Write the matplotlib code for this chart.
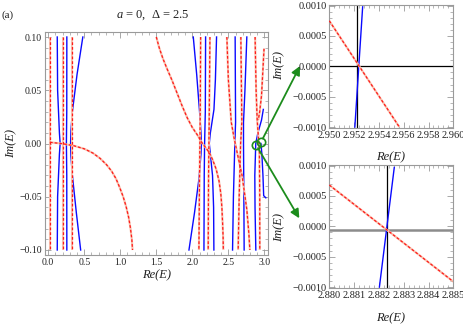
import matplotlib
matplotlib.use("Agg")
import matplotlib.pyplot as plt
from matplotlib.ticker import MultipleLocator, FuncFormatter

plt.rcParams["font.family"] = ["Liberation Serif", "DejaVu Serif"]
plt.rcParams["mathtext.fontset"] = "custom"
plt.rcParams["mathtext.rm"] = "Liberation Serif"
plt.rcParams["mathtext.it"] = "Liberation Serif:italic"

# ---- main panel: zero contours, blue = solid, red = dashed ----
blue_1 = ([0.125, 0.13, 0.155, 0.165, 0.155, 0.13, 0.125], [0.10, 0.05, 0.01, 0.0, -0.01, -0.05, -0.10])
blue_2 = ([0.258, 0.257, 0.252, 0.257, 0.258], [0.10, 0.03, 0.0, -0.03, -0.10])
blue_3 = ([0.48, 0.40, 0.335, 0.315, 0.31, 0.315, 0.335, 0.39, 0.45],
          [0.10, 0.065, 0.03, 0.012, 0.0, -0.012, -0.03, -0.065, -0.10])
blue_4 = ([2.013, 2.06, 2.10, 2.12, 2.125, 2.12, 2.09, 2.03, 1.953],
          [0.10, 0.065, 0.03, 0.01, 0.0, -0.01, -0.034, -0.065, -0.10])
blue_5 = ([2.184, 2.18, 2.17, 2.165, 2.161], [0.10, 0.03, 0.0, -0.03, -0.10])
blue_6 = ([2.336, 2.32, 2.30, 2.25, 2.235, 2.25, 2.28, 2.295, 2.299],
          [0.10, 0.06, 0.032, 0.01, 0.0, -0.01, -0.03, -0.06, -0.10])
blue_7 = ([2.594, 2.60, 2.59, 2.57, 2.558], [0.10, 0.02, 0.0, -0.05, -0.10])
blue_8 = ([2.756, 2.73, 2.71, 2.71, 2.715, 2.719], [0.10, 0.05, 0.02, 0.0, -0.05, -0.10])
blue_9 = ([2.985, 2.96, 2.91, 2.88, 2.867, 2.87, 2.881], [0.032, 0.022, 0.01, 0.0, -0.03, -0.06, -0.10])
blue_10 = ([2.952, 2.964, 2.98, 2.99, 3.02], [0.0, -0.009, -0.03, -0.049, -0.051])

red_1 = ([0.025, 0.025], [0.10, -0.10])
red_2 = ([0.198, 0.198], [0.10, -0.10])
red_3 = ([0.328, 0.328], [0.10, -0.10])
red_arc = ([0.025, 0.04, 0.2, 0.35, 0.5, 0.62, 0.72, 0.81, 0.88, 0.94, 0.99, 1.04, 1.08, 1.115, 1.14, 1.16, 1.17],
           [0.0015, 0.001, -0.0002, -0.002, -0.005, -0.009, -0.014, -0.020, -0.026, -0.033, -0.041,
            -0.050, -0.059, -0.069, -0.079, -0.090, -0.10])
red_4 = ([2.115, 2.11, 2.10, 2.091], [0.10, 0.03, -0.03, -0.10])
red_5 = ([2.244, 2.235, 2.225, 2.220], [0.10, 0.03, -0.03, -0.10])
red_tanh = ([1.50, 1.54, 1.59, 1.65, 1.72, 1.79, 1.86, 1.93, 2.00, 2.07, 2.14, 2.175, 2.23, 2.28,
             2.33, 2.37, 2.395, 2.41, 2.42, 2.427, 2.43],
            [0.10, 0.09, 0.08, 0.07, 0.059, 0.047, 0.035, 0.024, 0.015, 0.008, 0.0, -0.003, -0.008,
             -0.015, -0.024, -0.035, -0.047, -0.06, -0.075, -0.088, -0.10])
red_6 = ([2.479, 2.50, 2.54, 2.58, 2.62, 2.69, 2.756, 2.785, 2.798],
         [0.10, 0.06, 0.02, 0.005, -0.008, -0.03, -0.062, -0.085, -0.10])
red_7 = ([2.673, 2.687, 2.67, 2.65, 2.636], [0.10, 0.02, 0.0, -0.05, -0.10])
red_8 = ([2.871, 2.885, 2.90, 2.93, 2.935, 2.936], [0.10, 0.05, 0.022, -0.006, -0.05, -0.10])
red_9 = ([2.995, 2.98, 2.96, 2.935, 2.915], [0.089, 0.07, 0.045, 0.03, 0.022])

blue_main = [blue_1, blue_2, blue_3, blue_4, blue_5, blue_6, blue_7, blue_8, blue_9, blue_10]
red_main = [red_1, red_2, red_3, red_arc, red_4, red_5, red_tanh, red_6, red_7, red_8, red_9]

circles_x = [2.882, 2.952]
circles_y = [-0.001, 0.0012]

# ---- insets: close-ups of the two crossings ----
top_xlim = (2.950, 2.960)
top_blue = ([2.95206, 2.95269], [-0.0010, 0.00098])
top_red = ([2.9500, 2.95565], [0.00075, -0.00100])
top_cross = (2.95226, 0.0)

bot_xlim = (2.880, 2.885)
bot_blue = ([2.88202, 2.88262], [-0.0010, 0.00097])
bot_red = ([2.8800, 2.8850], [0.00068, -0.00091])
bot_cross = (2.88231, -0.00006)

BLUE = "#0a0aff"
RED = "#ff1a1a"
PALE = "#f8c0ad"
GREEN = "#1c8c1c"
FRAME = "#9a9a9a"
W, H = 463, 324


def fmt(nd):
    def f(v, pos):
        s = f"{abs(v):.{nd}f}"
        neg = v < 0 and float(s) != 0
        return ("\u2212" if neg else "") + s
    return FuncFormatter(f)


def style(ax, xmaj, xmin, xd, ymaj, ymin, yd, size=7):
    ax.xaxis.set_major_locator(MultipleLocator(xmaj))
    ax.xaxis.set_minor_locator(MultipleLocator(xmin))
    ax.yaxis.set_major_locator(MultipleLocator(ymaj))
    ax.yaxis.set_minor_locator(MultipleLocator(ymin))
    ax.xaxis.set_major_formatter(fmt(xd))
    ax.yaxis.set_major_formatter(fmt(yd))
    ax.tick_params(which="both", direction="in", top=True, right=True,
                   color=FRAME, labelcolor="#222222", labelsize=size, pad=2)
    ax.tick_params(which="major", length=4, width=0.6)
    ax.tick_params(which="minor", length=2, width=0.5)
    for s in ax.spines.values():
        s.set_color(FRAME)
        s.set_linewidth(0.8)


def red_line(ax, x, y):
    ax.plot(x, y, color=PALE, lw=1.5, solid_capstyle="butt", zorder=2)
    ax.plot(x, y, color=RED, lw=0.9, dashes=(2.2, 1.6), zorder=3)


def px(x, y):
    return x / W, 1 - y / H


fig = plt.figure(figsize=(W / 100, H / 100), dpi=100)

ax = fig.add_axes([45 / W, 1 - 255 / H, 223 / W, 223 / H])
for x, y in blue_main:
    ax.plot(x, y, color=BLUE, lw=1.0, zorder=2)
for x, y in red_main:
    red_line(ax, x, y)
ax.plot(circles_x, circles_y, ls="none", marker="o", ms=6, mfc="none", mec=GREEN, mew=1.2, zorder=5)
ax.set_xlim(-0.045, 3.05)
ax.set_ylim(-0.1047, 0.1047)
style(ax, 0.5, 0.1, 1, 0.05, 0.01, 2)

ax_top = fig.add_axes([329.3 / W, 1 - 128.3 / H, 124 / W, 123.3 / H])
ax_top.axvline(top_cross[0], color="black", lw=0.9)
ax_top.axhline(top_cross[1], color="black", lw=0.9)
ax_top.plot(*top_blue, color=BLUE, lw=1.0)
red_line(ax_top, *top_red)
ax_top.set_xlim(*top_xlim)
ax_top.set_ylim(-0.00102, 0.00101)
style(ax_top, 0.002, 0.0004, 3, 0.0005, 0.0001, 4, size=7.5)

ax_bot = fig.add_axes([329.3 / W, 1 - 288.3 / H, 124 / W, 123.3 / H])
ax_bot.axvline(bot_cross[0], color="black", lw=0.9)
ax_bot.axhline(bot_cross[1], color="#8c8c8c", lw=1.8)
ax_bot.plot(*bot_blue, color=BLUE, lw=1.0)
red_line(ax_bot, *bot_red)
ax_bot.set_xlim(*bot_xlim)
ax_bot.set_ylim(-0.00102, 0.00101)
style(ax_bot, 0.001, 0.0002, 3, 0.0005, 0.0001, 4, size=7.5)

# arrows from the circles to the close-ups
arrow = dict(arrowstyle="-|>", color=GREEN, lw=1.3, mutation_scale=13, shrinkA=3, shrinkB=0)
ax.annotate("", xy=px(300, 66), xycoords="figure fraction",
            xytext=(circles_x[1], circles_y[1]), textcoords="data", arrowprops=arrow)
ax.annotate("", xy=px(299.3, 218.3), xycoords="figure fraction",
            xytext=(circles_x[0], circles_y[0]), textcoords="data", arrowprops=arrow)

lab = dict(fontsize=9, style="italic", ha="center", va="center", color="#222222")
fig.text(*px(157, 275), "Re(E)", **lab)
fig.text(*px(11, 144), "Im(E)", rotation=90, **lab)
fig.text(*px(391, 157), "Re(E)", **lab)
fig.text(*px(279, 66), "Im(E)", rotation=90, **lab)
fig.text(*px(391, 318), "Re(E)", **lab)
fig.text(*px(279, 227), "Im(E)", rotation=90, **lab)

fig.text(*px(153, 15), r"$a$ = 0,  Δ = 2.5", fontsize=9, ha="center", va="center", color="#222222")
fig.text(*px(1, 15), "(a)", fontsize=8, ha="left", va="center", color="#222222")

fig.savefig("out.png", dpi=100)
